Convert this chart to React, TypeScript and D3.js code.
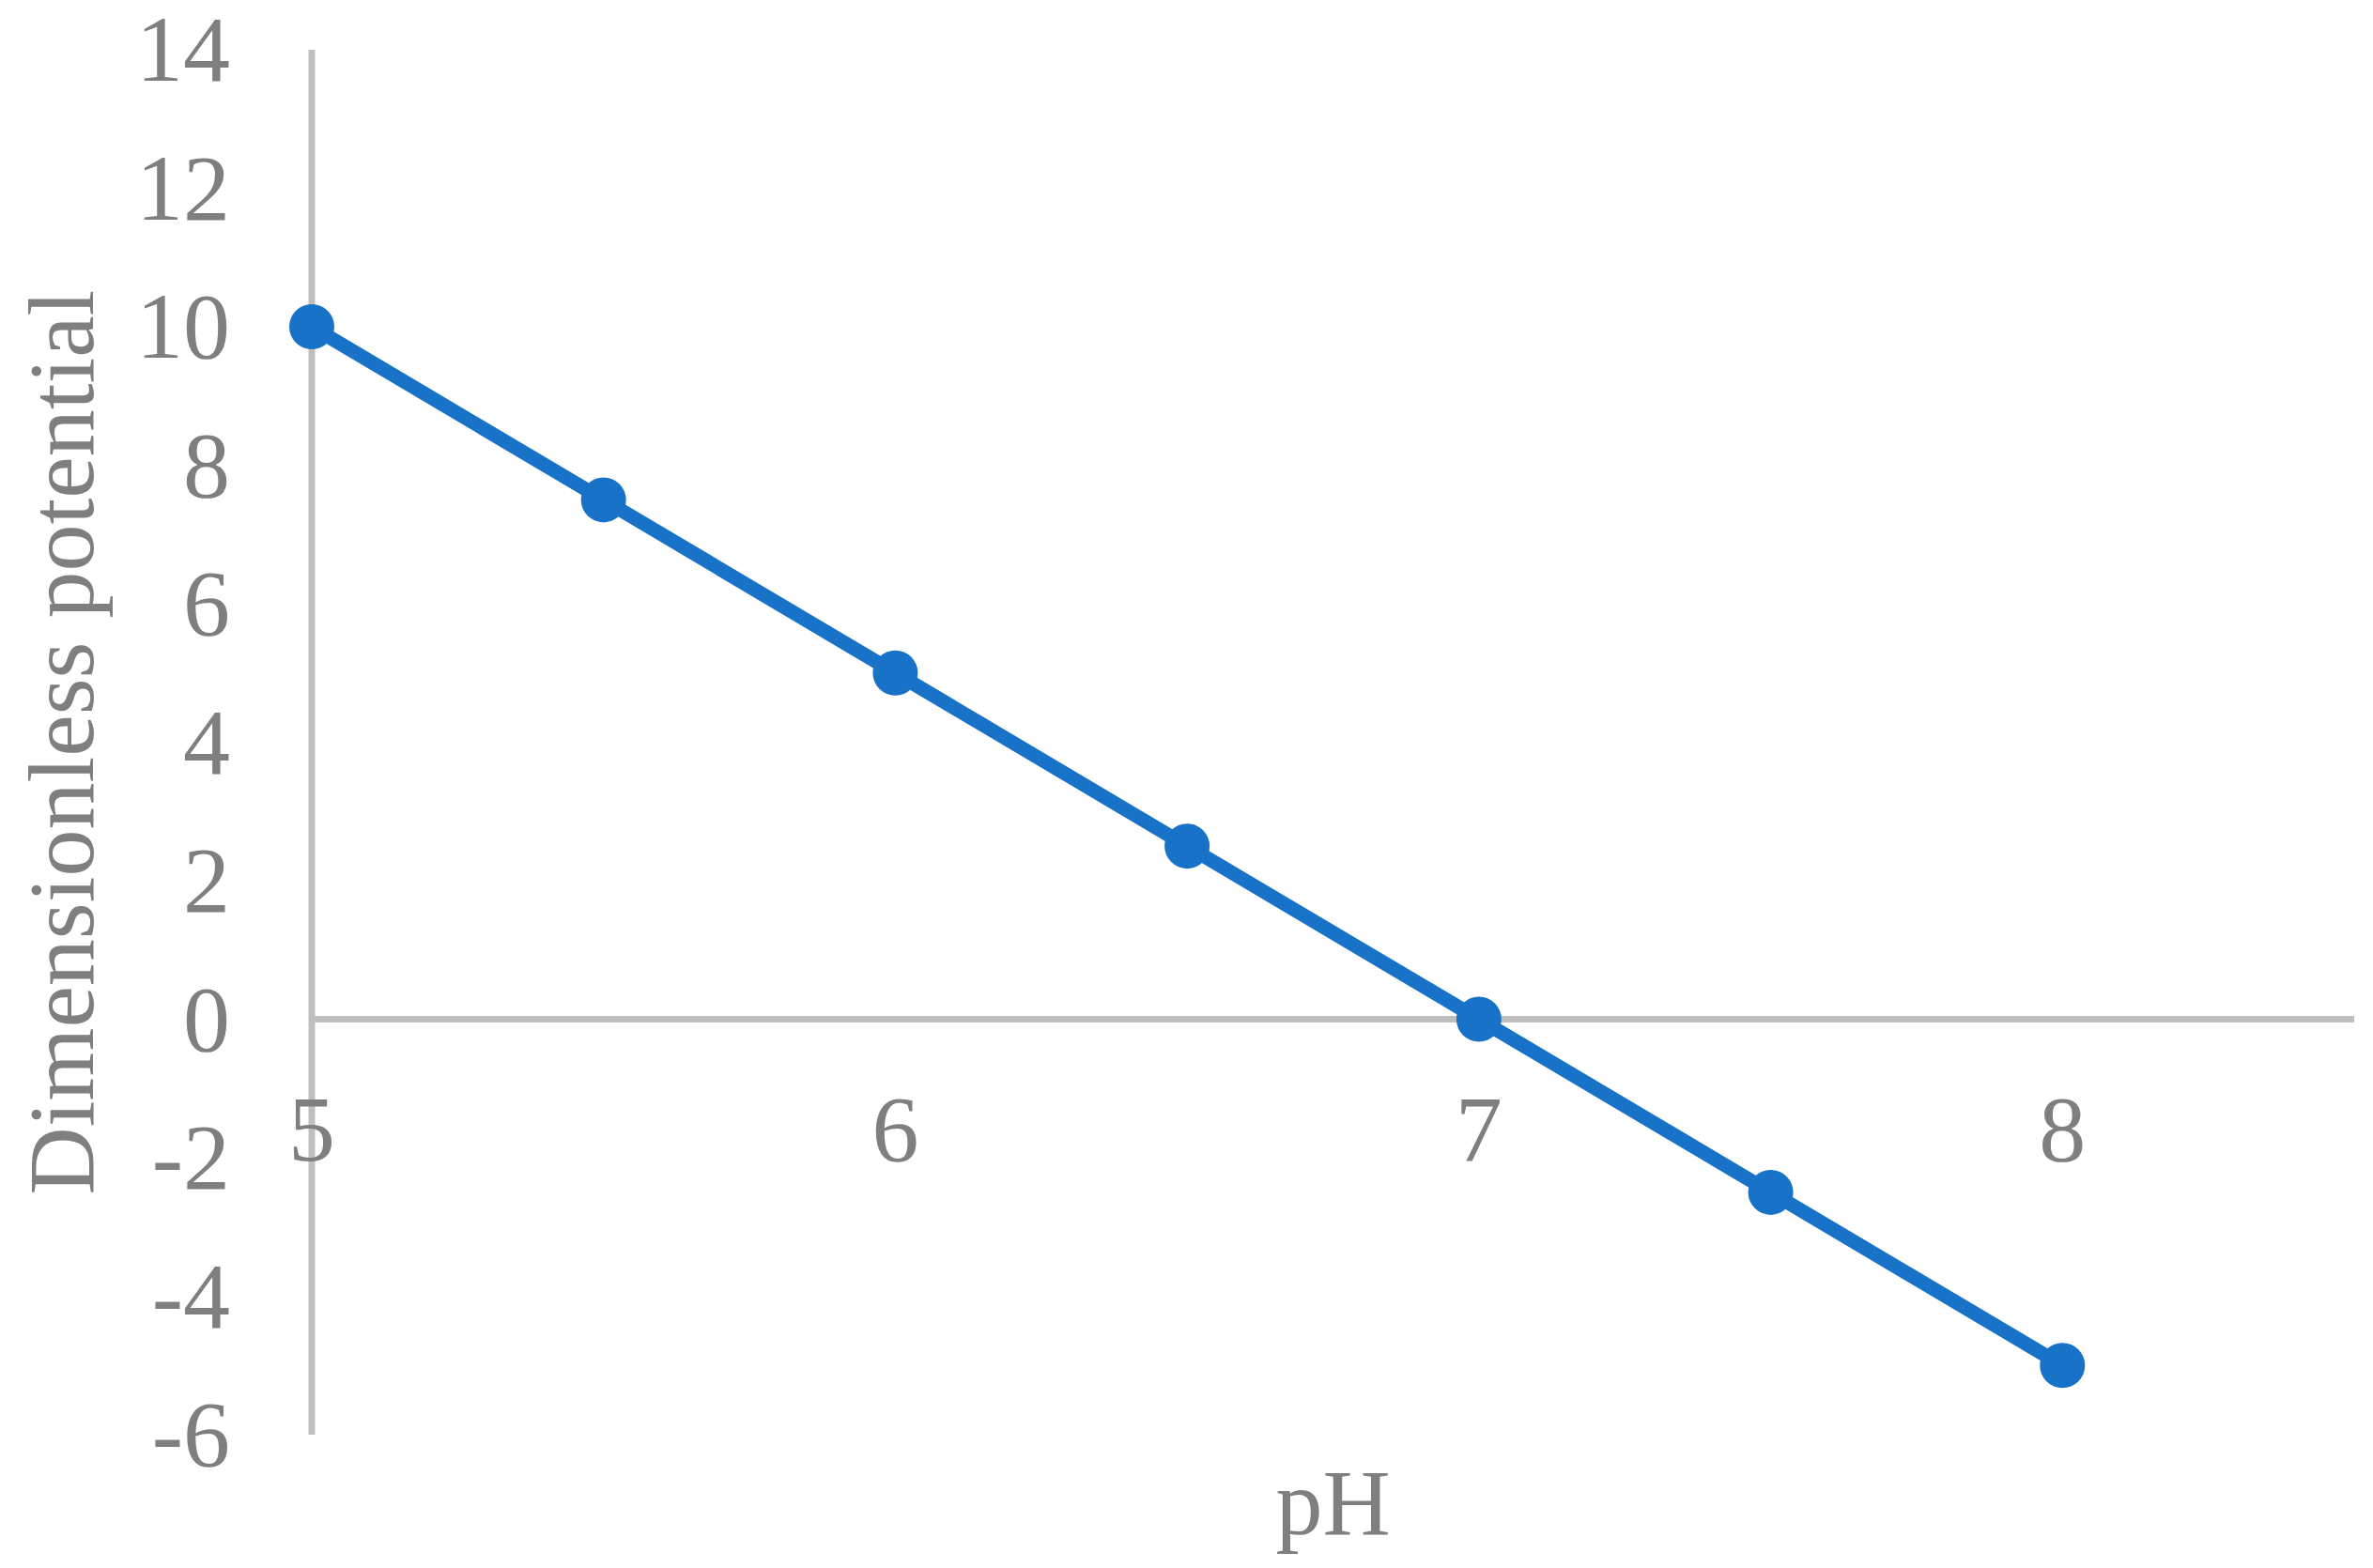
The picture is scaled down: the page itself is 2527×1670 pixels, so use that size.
import { useEffect, useRef } from 'react';
import * as d3 from 'd3';

// pH vs dimensionless potential
const phValues = [5, 5.5, 6, 6.5, 7, 7.5, 8];
const potentialValues = [10, 7.5, 5, 2.5, 0, -2.5, -5];
const xTicks = [5, 6, 7, 8];
const yTicks = [-6, -4, -2, 0, 2, 4, 6, 8, 10, 12, 14];

const WIDTH = 2527;
const HEIGHT = 1670;
const FONT = '"Liberation Serif", "Times New Roman", serif';
const GREY = '#7f7f7f';
const AXIS = '#bfbfbf';
const BLUE = '#1873c8';

const App = () => {
  const svgRef = useRef<SVGSVGElement | null>(null);

  useEffect(() => {
    const svg = d3.select(svgRef.current);
    svg.selectAll('*').remove();

    const x = d3.scaleLinear().domain([5, 8.5]).range([332, 2507]);
    const y = d3.scaleLinear().domain([-6, 14]).range([1528, 53]);

    const data = phValues.map((p, i) => ({ x: p, y: potentialValues[i] }));

    // vertical axis line (at x = 5)
    svg.append('line')
      .attr('x1', x(5)).attr('x2', x(5))
      .attr('y1', y(14)).attr('y2', y(-6))
      .attr('stroke', AXIS).attr('stroke-width', 7);

    // horizontal axis line (at y = 0)
    svg.append('line')
      .attr('x1', x(5)).attr('x2', x(8.5))
      .attr('y1', y(0)).attr('y2', y(0))
      .attr('stroke', AXIS).attr('stroke-width', 7);

    // y tick labels
    svg.append('g')
      .selectAll('text')
      .data(yTicks)
      .enter()
      .append('text')
      .attr('x', 245)
      .attr('y', d => y(d) + 33)
      .attr('text-anchor', 'end')
      .attr('font-family', FONT)
      .attr('font-size', 100)
      .attr('fill', GREY)
      .text(d => d);

    // x tick labels (sit below the zero line)
    svg.append('g')
      .selectAll('text')
      .data(xTicks)
      .enter()
      .append('text')
      .attr('x', d => x(d))
      .attr('y', 1236)
      .attr('text-anchor', 'middle')
      .attr('font-family', FONT)
      .attr('font-size', 100)
      .attr('fill', GREY)
      .text(d => d);

    // series line
    const line = d3.line<{ x: number; y: number }>()
      .x(d => x(d.x))
      .y(d => y(d.y));

    svg.append('path')
      .datum(data)
      .attr('d', line)
      .attr('fill', 'none')
      .attr('stroke', BLUE)
      .attr('stroke-width', 15)
      .attr('stroke-linejoin', 'round');

    // markers
    svg.append('g')
      .selectAll('circle')
      .data(data)
      .enter()
      .append('circle')
      .attr('cx', d => x(d.x))
      .attr('cy', d => y(d.y))
      .attr('r', 24)
      .attr('fill', BLUE);

    // axis titles
    svg.append('text')
      .attr('x', (x(5) + x(8.5)) / 2)
      .attr('y', 1634)
      .attr('text-anchor', 'middle')
      .attr('font-family', FONT)
      .attr('font-size', 100)
      .attr('fill', GREY)
      .text('pH');

    svg.append('text')
      .attr('transform', `translate(99,${(y(14) + y(-6)) / 2}) rotate(-90)`)
      .attr('text-anchor', 'middle')
      .attr('font-family', FONT)
      .attr('font-size', 100)
      .attr('fill', GREY)
      .text('Dimensionless potential');
  }, []);

  return (
    <svg
      ref={svgRef}
      width={WIDTH}
      height={HEIGHT}
      style={{ position: 'absolute', left: 0, top: 0, background: '#fff' }}
    />
  );
};

export default App;
